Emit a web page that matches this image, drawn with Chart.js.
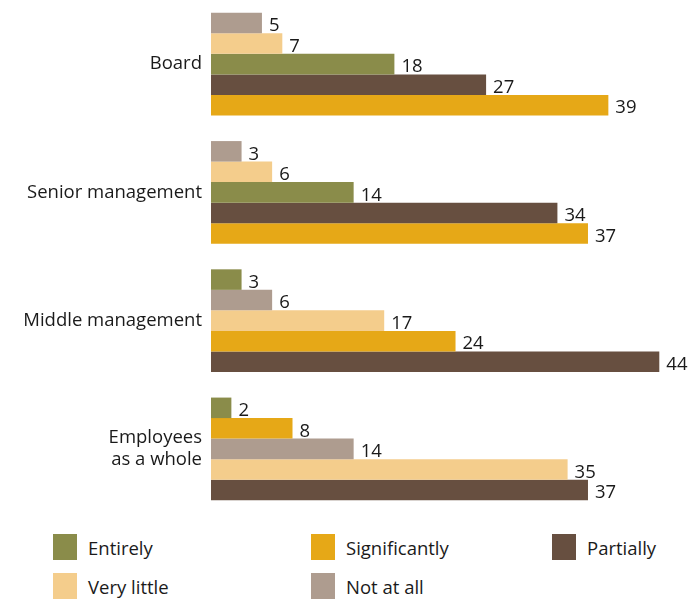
<!DOCTYPE html>
<html>
<head>
<meta charset="utf-8">
<script src="https://cdn.jsdelivr.net/npm/chart.js@4"></script>
<style>
  body { margin: 0; background: #fff; font-family: "Open Sans", sans-serif; }
  #wrap { position: relative; width: 697px; height: 600px; }
  #grafico { position: absolute; left: 0; top: 0; }
  .leg { position: absolute; display: flex; align-items: center; font-size: 18.5px; color: #1a1a1a; }
  .leg span.sw { display: inline-block; width: 24px; height: 26px; margin-right: 11px; }
</style>
</head>
<body>
<div id="wrap">
  <canvas id="grafico" width="697" height="513"></canvas>
  <div id="legenda"></div>
</div>
<script>
var categorias = [['Board'], ['Senior management'], ['Middle management'], ['Employees', 'as a whole']];
var series = ['Entirely', 'Significantly', 'Partially', 'Very little', 'Not at all'];
var cores = ['#8a8c4a', '#e6a817', '#674f40', '#f4cd8c', '#ae9c8f'];

var entirely      = [18, 14, 3, 2];
var significantly = [39, 37, 24, 8];
var partially     = [27, 34, 44, 37];
var veryLittle    = [7, 6, 17, 35];
var notAtAll      = [5, 3, 6, 14];

var xMax = 47.7;

var valores = [entirely, significantly, partially, veryLittle, notAtAll];

// bars in each group go from smallest (top) to largest (bottom),
// so one dataset per rank, colour picked per group
var datasets = [];
for (var r = 0; r < series.length; r++) {
  datasets.push({ label: 'rank' + r, data: [], backgroundColor: [], borderWidth: 0 });
}
for (var g = 0; g < categorias.length; g++) {
  var ordem = [];
  for (var s = 0; s < series.length; s++) ordem.push(s);
  ordem.sort(function(a, b){ return valores[a][g] - valores[b][g]; });
  for (var r = 0; r < ordem.length; r++) {
    datasets[r].data.push(valores[ordem[r]][g]);
    datasets[r].backgroundColor.push(cores[ordem[r]]);
  }
}

// numbers at the end of every bar
var rotulos = {
  id: 'rotulos',
  afterDatasetsDraw: function(chart) {
    var ctx = chart.ctx;
    ctx.save();
    ctx.font = '18.5px "Open Sans", sans-serif';
    ctx.fillStyle = '#1a1a1a';
    ctx.textBaseline = 'middle';
    ctx.textAlign = 'left';
    chart.data.datasets.forEach(function(ds, i){
      chart.getDatasetMeta(i).data.forEach(function(bar, j){
        ctx.fillText(ds.data[j], bar.x + 7, bar.y + 3);
      });
    });
    ctx.restore();
  }
};

var ctx = document.getElementById('grafico').getContext('2d');
new Chart(ctx, {
  type: 'bar',
  data: { labels: categorias, datasets: datasets },
  options: {
    indexAxis: 'y',
    responsive: false,
    animation: false,
    layout: { padding: 0 },
    datasets: { bar: { barPercentage: 1, categoryPercentage: 0.8 } },
    plugins: { legend: { display: false }, tooltip: { enabled: false } },
    scales: {
      x: { display: false, min: 0, max: xMax },
      y: {
        grid: { display: false, drawTicks: false },
        border: { display: false },
        ticks: { color: '#1a1a1a', padding: 9, font: { family: 'Open Sans', size: 18.5, lineHeight: 1.2 } },
        afterFit: function(scale){
          scale.width = 211;
          scale.paddingTop = 0;
          scale.paddingBottom = 0;
        }
      }
    }
  },
  plugins: [rotulos]
});

// legend, three columns
var posLeg = [[53, 534], [311, 534], [552, 534], [53, 573], [311, 573]];
var html = '';
for (var i = 0; i < series.length; i++) {
  html += '<div class="leg" style="left:' + posLeg[i][0] + 'px;top:' + posLeg[i][1] + 'px">';
  html += '<span class="sw" style="background:' + cores[i] + '"></span>' + series[i] + '</div>';
}
document.getElementById('legenda').innerHTML = html;
</script>
</body>
</html>
